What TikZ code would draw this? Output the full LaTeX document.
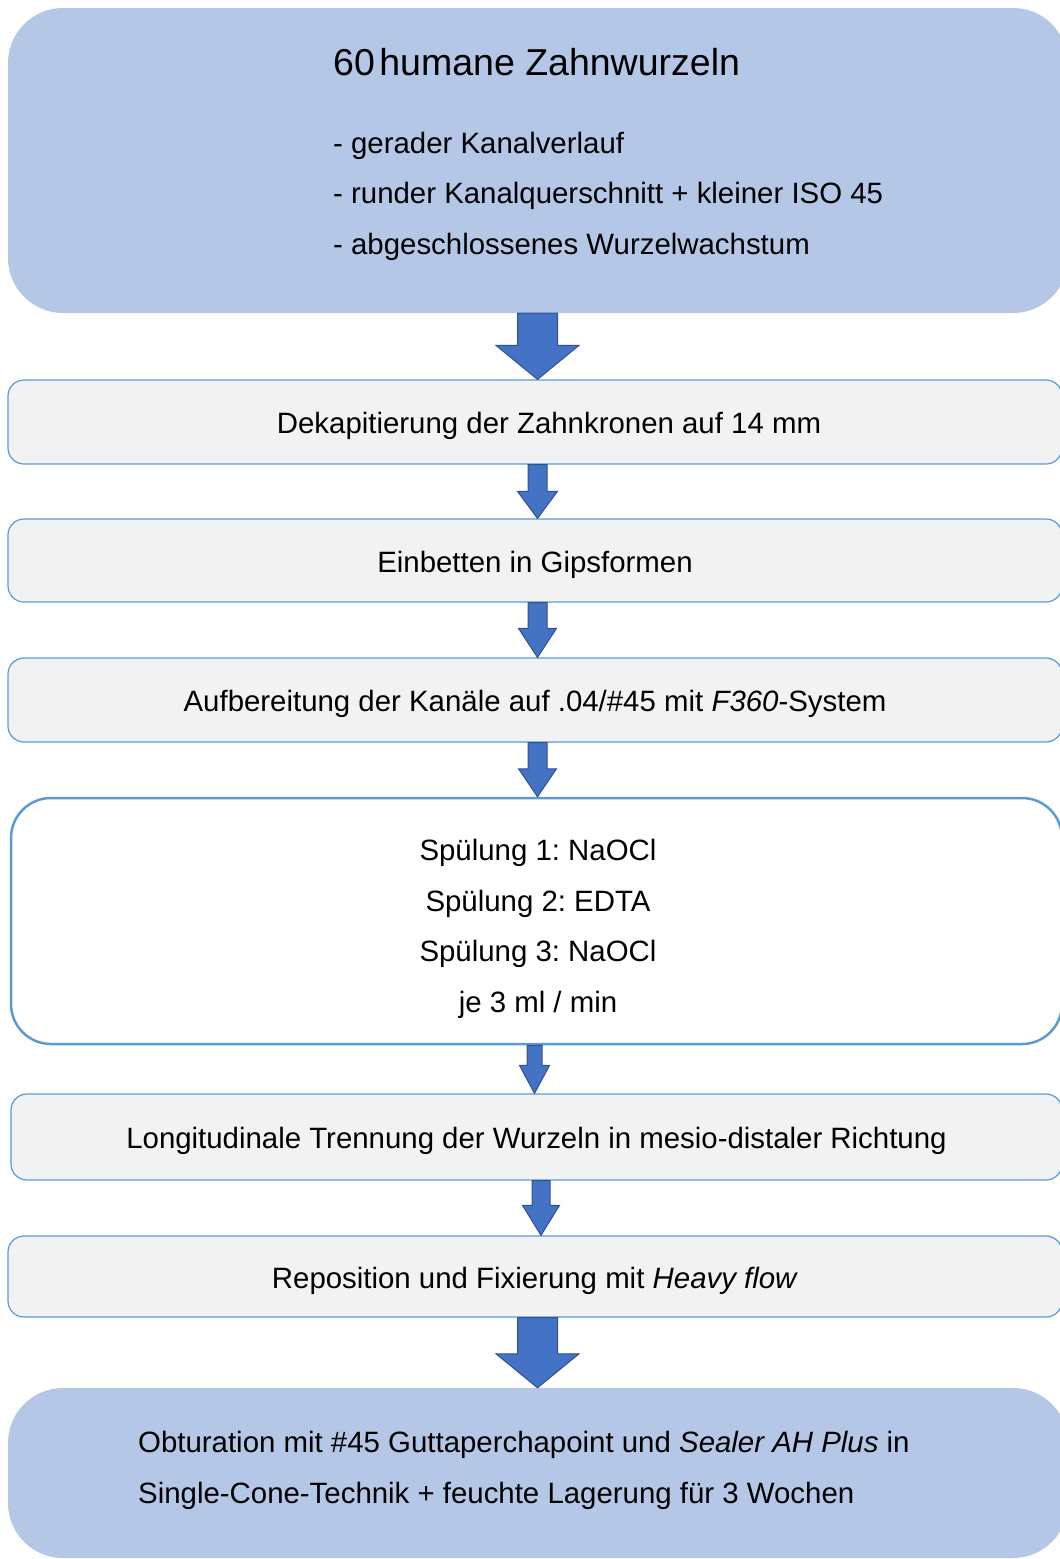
\documentclass[tikz,border=0pt]{standalone}
\usepackage{fontspec}
\setmainfont{Liberation Sans}
\usetikzlibrary{calc}
\frenchspacing

\definecolor{topblue}{HTML}{B4C7E7}
\definecolor{boxgray}{HTML}{F2F2F2}
\definecolor{boxline}{HTML}{5B9BD5}
\definecolor{arrowfill}{HTML}{4472C4}
\definecolor{arrowline}{HTML}{2F528F}

\tikzset{
  bluebox/.style={fill=topblue, rounded corners=55pt, inner sep=0pt, minimum width=1060pt},
  graybox/.style={fill=boxgray, draw=boxline, line width=1.2pt, rounded corners=16pt,
    minimum width=1054pt, minimum height=84pt, inner sep=0pt, text height=23pt, text depth=0pt},
  txt/.style={inner sep=0pt, font=\fontsize{29.4}{50.5}\selectfont},
  blockarrow/.style={fill=arrowfill, draw=arrowline, line width=1pt, line join=miter}
}

% block arrow from node #1 to node #2: shaft half width #3, head half width #4, head length #5, x shift #6
\newcommand{\blockarrow}[6]{
  \draw[blockarrow] let \p1=([xshift=#6pt]#1.south), \p2=(#2.north) in
    (\x1-#3pt,\y1) -- (\x1-#3pt,\y2+#5pt) -- (\x1-#4pt,\y2+#5pt) -- (\x1,\y2)
    -- (\x1+#4pt,\y2+#5pt) -- (\x1+#3pt,\y2+#5pt) -- (\x1+#3pt,\y1) -- cycle;
}

\begin{document}
\begin{tikzpicture}[x=1pt,y=-1pt]
\useasboundingbox (0,0) rectangle (1060,1559);
\clip (0,0) rectangle (1060,1559);

% Sample
\node[bluebox, minimum height=305pt] (roots) at (538,160.5) {};
\node[txt, font=\fontsize{37.5}{44}\selectfont, anchor=base west] (rootsTitle) at (333,75) {60\hspace{0.12em}humane Zahnwurzeln};
\node[txt, align=left, anchor=west] (rootsList) at (333,196) {- gerader Kanalverlauf\\- runder Kanalquerschnitt + kleiner ISO 45\\- abgeschlossenes Wurzelwachstum};

% Preparation steps
\node[graybox, txt] (dekap) at (535,422) {\hspace{28pt}Dekapitierung der Zahnkronen auf 14 mm};
\node[graybox, txt, minimum height=83pt] (gips) at (535,560.5) {Einbetten in Gipsformen};
\node[graybox, txt] (aufb) at (535,700) {Aufbereitung der Kanäle auf .04/\#45 mit \textit{F360}-System};

% Irrigation
\node[fill=white, draw=boxline, line width=2.5pt, rounded corners=40pt,
  minimum width=1051pt, minimum height=246pt, inner sep=0pt] (spuel) at (536.5,921) {};
\node[txt, align=center] (spuelText) at (538,929) {Spülung 1: NaOCl\\Spülung 2: EDTA\\Spülung 3: NaOCl\\je 3 ml / min};

\node[graybox, txt, minimum width=1051pt, minimum height=86pt] (trenn) at (536.5,1137) {Longitudinale Trennung der Wurzeln in mesio-distaler Richtung};
\node[graybox, txt, minimum height=81pt] (repos) at (535,1276.5) {Reposition und Fixierung mit \textit{Heavy flow}};

% Obturation
\node[bluebox, minimum height=170pt] (obtur) at (538,1473) {};
\node[txt, align=left, anchor=west] (obturText) at (138,1470.5) {Obturation mit \#45 Guttaperchapoint und \textit{Sealer AH Plus} in\\Single-Cone-Technik + feuchte Lagerung für 3 Wochen};

% Arrows
\blockarrow{roots}{dekap}{20}{41.5}{34}{-0.5}
\blockarrow{dekap}{gips}{9.5}{20}{27}{2.5}
\blockarrow{gips}{aufb}{9.5}{19}{29}{2.5}
\blockarrow{aufb}{spuel}{9.5}{19}{28}{2.5}
\blockarrow{spuel}{trenn}{7.5}{15}{28}{-2}
\blockarrow{trenn}{repos}{9}{18.5}{30}{4.5}
\blockarrow{repos}{obtur}{20}{41.5}{34}{2.5}
\end{tikzpicture}
\end{document}
